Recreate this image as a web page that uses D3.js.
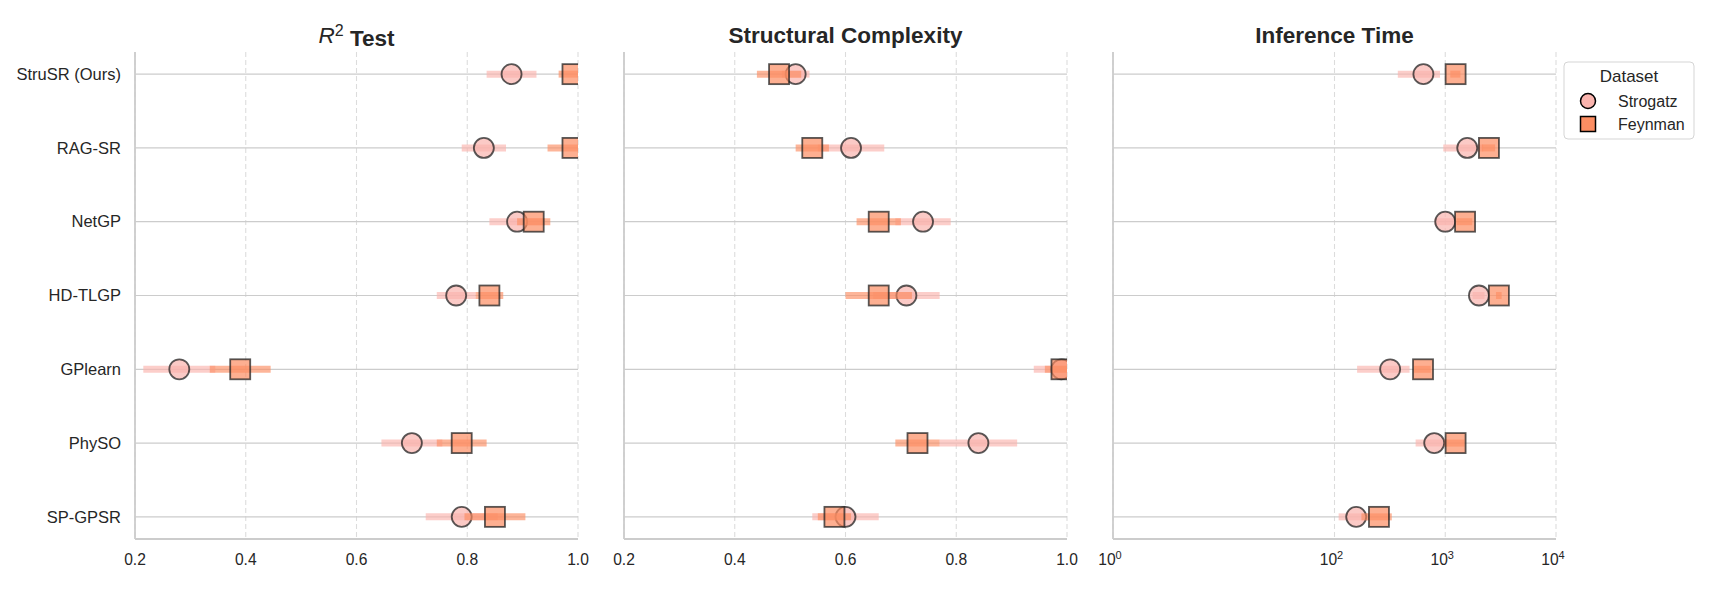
<!DOCTYPE html>
<html>
<head>
<meta charset="utf-8">
<script src="https://cdn.jsdelivr.net/npm/d3@7"></script>
<style>
  body { margin: 0; background: #fff; }
  text { font-family: "Liberation Sans", Arial, sans-serif; fill: #262626; }
</style>
</head>
<body>
<div id="chart"></div>
<script>
// methods, top to bottom
const methods = ["StruSR (Ours)", "RAG-SR", "NetGP", "HD-TLGP", "GPlearn", "PhySO", "SP-GPSR"];
const datasets = ["Strogatz", "Feynman"];

// R^2 test
const r2Strogatz = [0.88, 0.83, 0.89, 0.78, 0.28, 0.70, 0.79];
const r2StrogatzErr = [0.045, 0.04, 0.05, 0.035, 0.065, 0.055, 0.065];
const r2Feynman = [0.99, 0.99, 0.92, 0.84, 0.39, 0.79, 0.85];
const r2FeynmanErr = [0.025, 0.045, 0.03, 0.025, 0.055, 0.045, 0.055];

// structural complexity
const cxStrogatz = [0.51, 0.61, 0.74, 0.71, 0.99, 0.84, 0.60];
const cxStrogatzErr = [0.025, 0.06, 0.05, 0.06, 0.05, 0.07, 0.06];
const cxFeynman = [0.48, 0.54, 0.66, 0.66, 0.99, 0.73, 0.58];
const cxFeynmanErr = [0.04, 0.03, 0.04, 0.06, 0.03, 0.04, 0.03];

// inference time (s)
const timeStrogatz = [635, 1580, 1000, 2015, 318, 795, 157];
const timeStrogatzErr = [262, 620, 200, 250, 158, 255, 48];
const timeFeynman = [1240, 2480, 1510, 3050, 630, 1240, 252];
const timeFeynmanErr = [130, 340, 245, 180, 110, 255, 77];

const linearTicks = [0.2, 0.4, 0.6, 0.8, 1.0];
const timeTicks = [1, 100, 1000, 10000];

(function () {
  let width = 1709,
    height = 600,
    top = 52,
    bottom = 539,
    panelWidth = 443,
    lefts = [135, 624, 1113],
    colors = ["#fab4ae", "#fc8d62"];

  let svg = d3.select("#chart")
    .append("svg")
    .attr("width", width)
    .attr("height", height);

  let y = d3.scalePoint().domain(methods).range([top, bottom]).padding(0.3);

  let panels = [
    { title: "r2", log: false, ticks: linearTicks,
      series: [[r2Strogatz, r2StrogatzErr], [r2Feynman, r2FeynmanErr]] },
    { title: "Structural Complexity", log: false, ticks: linearTicks,
      series: [[cxStrogatz, cxStrogatzErr], [cxFeynman, cxFeynmanErr]] },
    { title: "Inference Time", log: true, ticks: timeTicks,
      series: [[timeStrogatz, timeStrogatzErr], [timeFeynman, timeFeynmanErr]] }
  ];

  panels.forEach(function (p, k) {
    let left = lefts[k];
    let x = p.log
      ? d3.scaleLog().domain([1, 1e4]).range([left, left + panelWidth])
      : d3.scaleLinear().domain([0.2, 1.0]).range([left, left + panelWidth]);

    let g = svg.append("g");

    svg.append("clipPath").attr("id", "clip" + k)
      .append("rect")
      .attr("x", left).attr("y", top)
      .attr("width", panelWidth).attr("height", bottom - top);

    // vertical dashed grid
    g.selectAll(".vgrid").data(p.ticks).enter()
      .append("line")
      .attr("x1", d => x(d)).attr("x2", d => x(d))
      .attr("y1", top).attr("y2", bottom)
      .attr("stroke", "#dcdcdc")
      .attr("stroke-width", 1.1)
      .attr("stroke-dasharray", "5,3");

    // horizontal grid at each method
    g.selectAll(".hgrid").data(methods).enter()
      .append("line")
      .attr("x1", left).attr("x2", left + panelWidth)
      .attr("y1", d => y(d)).attr("y2", d => y(d))
      .attr("stroke", "#cccccc")
      .attr("stroke-width", 1.2);

    // spines
    g.append("line")
      .attr("x1", left).attr("x2", left)
      .attr("y1", top).attr("y2", bottom)
      .attr("stroke", "#cccccc").attr("stroke-width", 1.8);
    g.append("line")
      .attr("x1", left).attr("x2", left + panelWidth)
      .attr("y1", bottom).attr("y2", bottom)
      .attr("stroke", "#cccccc").attr("stroke-width", 1.8);

    // x tick labels
    let tl = g.selectAll(".tick").data(p.ticks).enter()
      .append("text")
      .attr("x", d => x(d))
      .attr("y", 565)
      .attr("text-anchor", "middle")
      .style("font-size", "15.6px");
    if (p.log) {
      tl.text("10")
        .append("tspan")
        .attr("dy", "-0.55em")
        .style("font-size", "11px")
        .text(d => Math.round(Math.log10(d)));
      tl.attr("dx", "-3px");
    } else {
      tl.text(d => d3.format(".1f")(d));
    }

    // y labels only on the first panel
    if (k === 0) {
      g.selectAll(".ylab").data(methods).enter()
        .append("text")
        .attr("x", left - 14)
        .attr("y", d => y(d))
        .attr("dy", "0.35em")
        .attr("text-anchor", "end")
        .style("font-size", "16.5px")
        .text(d => d);
    }

    // title
    let t = svg.append("text")
      .attr("x", left + panelWidth / 2)
      .attr("y", 43)
      .attr("text-anchor", "middle")
      .style("font-size", "22.5px")
      .style("font-weight", "bold");
    if (p.title === "r2") {
      t.append("tspan").style("font-style", "italic").style("font-weight", "normal").text("R");
      t.append("tspan").attr("dy", "-0.45em").style("font-size", "16px").style("font-weight", "normal").text("2");
      t.append("tspan").attr("dy", "0.45em").text("\u00a0Test");
    } else {
      t.text(p.title);
    }

    // data
    let plot = svg.append("g").attr("clip-path", "url(#clip" + k + ")");
    p.series.forEach(function (s, j) {
      let rows = methods.map((m, i) => ({ m: m, v: s[0][i], e: s[1][i] }));
      let sg = plot.append("g");

      sg.selectAll(".err").data(rows).enter()
        .append("line")
        .attr("x1", d => x(Math.max(d.v - d.e, 1e-9)))
        .attr("x2", d => x(d.v + d.e))
        .attr("y1", d => y(d.m)).attr("y2", d => y(d.m))
        .attr("stroke", colors[j])
        .attr("stroke-opacity", 0.65)
        .attr("stroke-width", 7);

      if (j === 0) {
        sg.selectAll(".pt").data(rows).enter()
          .append("circle")
          .attr("cx", d => x(d.v))
          .attr("cy", d => y(d.m))
          .attr("r", 10)
          .attr("fill", colors[j]).attr("fill-opacity", 0.7)
          .attr("stroke", "#222").attr("stroke-opacity", 0.75)
          .attr("stroke-width", 1.8);
      } else {
        sg.selectAll(".pt").data(rows).enter()
          .append("rect")
          .attr("x", d => x(d.v) - 10)
          .attr("y", d => y(d.m) - 10)
          .attr("width", 20).attr("height", 20)
          .attr("fill", colors[j]).attr("fill-opacity", 0.7)
          .attr("stroke", "#222").attr("stroke-opacity", 0.75)
          .attr("stroke-width", 1.8);
      }
    });
  });

  // legend
  let lg = svg.append("g");
  lg.append("rect")
    .attr("x", 1564).attr("y", 62)
    .attr("width", 130).attr("height", 77)
    .attr("rx", 4)
    .attr("fill", "#fff")
    .attr("stroke", "#d5d5d5");
  lg.append("text")
    .attr("x", 1629).attr("y", 82)
    .attr("text-anchor", "middle")
    .style("font-size", "17px")
    .text("Dataset");
  datasets.forEach(function (name, j) {
    let cy = 101 + j * 23;
    if (j === 0) {
      lg.append("circle").attr("cx", 1588).attr("cy", cy).attr("r", 7.5)
        .attr("fill", colors[j]).attr("stroke", "#000").attr("stroke-width", 1.5);
    } else {
      lg.append("rect").attr("x", 1580.5).attr("y", cy - 7.5)
        .attr("width", 15).attr("height", 15)
        .attr("fill", colors[j]).attr("stroke", "#000").attr("stroke-width", 1.5);
    }
    lg.append("text")
      .attr("x", 1618).attr("y", cy)
      .attr("dy", "0.35em")
      .style("font-size", "16px")
      .text(name);
  });
})();
</script>
</body>
</html>
